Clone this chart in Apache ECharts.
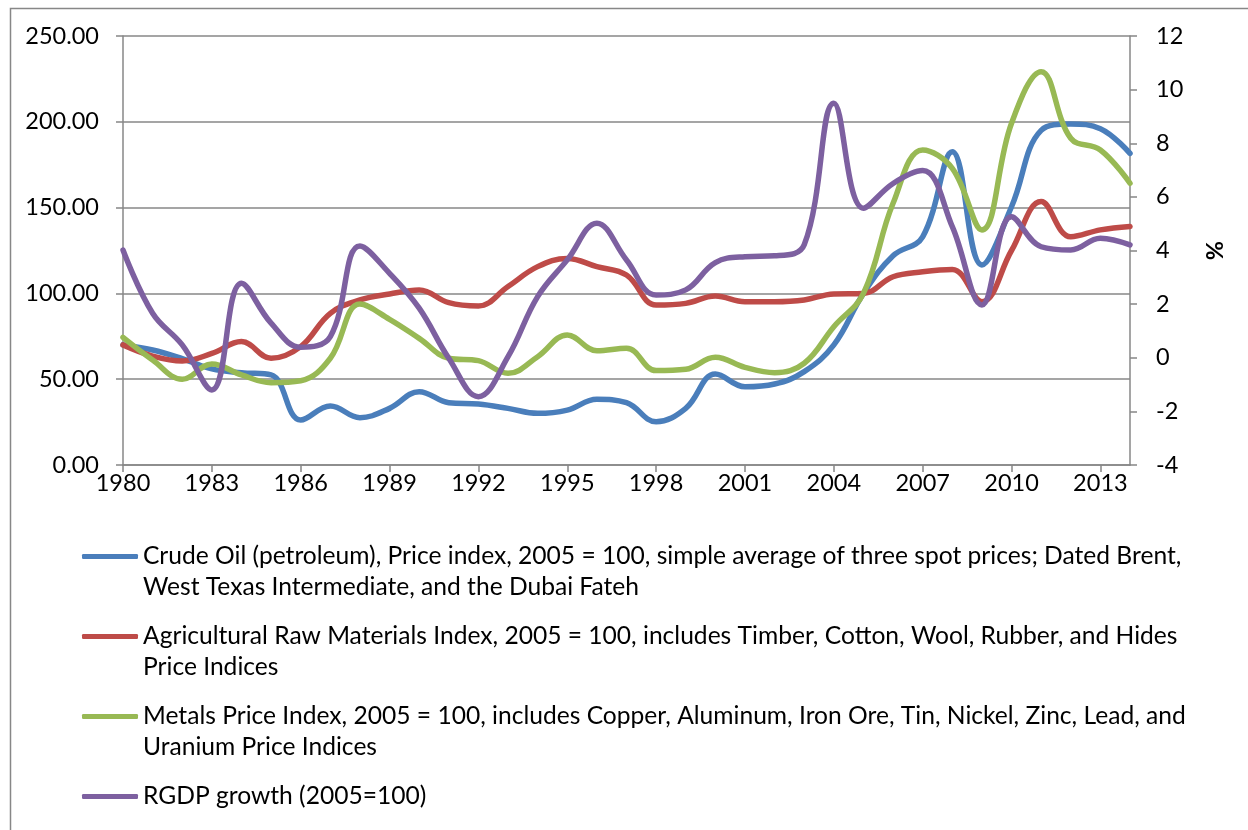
<!DOCTYPE html>
<html>
<head>
<meta charset="utf-8">
<script src="https://cdn.jsdelivr.net/npm/echarts@6/dist/echarts.min.js"></script>
<style>
html,body{margin:0;padding:0;background:#fff;}
#chart{width:1248px;height:830px;}
</style>
</head>
<body>
<div id="chart"></div>
<script>
var years = ['1980','1981','1982','1983','1984','1985','1986','1987','1988','1989','1990','1991','1992','1993','1994','1995','1996','1997','1998','1999','2000','2001','2002','2003','2004','2005','2006','2007','2008','2009','2010','2011','2012','2013','2014'];
var crudeOil = [70,67,62,56,53.8,52.5,26.2,34.4,27.6,33,42.7,36.3,35.5,33,30.1,32,38.3,36.3,25.2,33,53,45.6,47.2,54.4,70,100,122,133,182.6,116.6,150.5,195,198.7,196,181.6];
var agriRaw = [70,63.5,60.6,65,71.9,62.2,69,88.4,96.2,99.7,102,94.6,92.7,104,115.6,120.4,115.6,110.7,93.2,94.2,98.5,95.2,95.2,96.2,99.7,100,109.7,112.6,114,95.2,125,153.5,133,137,139];
var metals = [74.4,61.2,50,58.9,52.5,48,49.1,62.2,93.8,84.9,73.8,62.2,60.8,53.4,63.1,75.8,66.6,68,55,55.8,62.8,56.9,53.8,59.3,80.6,100,152.5,183.6,172.9,137,199.2,229.2,190.4,183.6,164.2];
var rgdpGrowth = [4.02,1.66,0.48,-1.2,2.78,1.29,0.39,0.79,4.17,3.15,1.85,-0.02,-1.45,0.04,2.28,3.65,5.02,3.65,2.34,2.53,3.55,3.77,3.8,4.21,9.49,5.58,6.5,6.98,4.89,1.97,5.26,4.14,4.02,4.46,4.21];

var seriesNames = [
  'Crude Oil (petroleum), Price index, 2005 = 100, simple average of three spot prices; Dated Brent, West Texas Intermediate, and the Dubai Fateh',
  'Agricultural Raw Materials Index, 2005 = 100, includes Timber, Cotton, Wool, Rubber, and Hides Price Indices',
  'Metals Price Index, 2005 = 100, includes Copper, Aluminum, Iron Ore, Tin, Nickel, Zinc, Lead, and Uranium Price Indices',
  'RGDP growth (2005=100)'
];
// wrapped legend text: a blank line above each entry keeps the marker level with the first line
var legendLines = [
  '\nCrude Oil (petroleum), Price index, 2005 = 100, simple average of three spot prices; Dated Brent,\nWest Texas Intermediate, and the Dubai Fateh',
  '\nAgricultural Raw Materials Index, 2005 = 100, includes Timber, Cotton, Wool, Rubber, and Hides\nPrice Indices',
  '\nMetals Price Index, 2005 = 100, includes Copper, Aluminum, Iron Ore, Tin, Nickel, Zinc, Lead, and\nUranium Price Indices',
  '\nRGDP growth (2005=100)\n'
];
var leftTicks = {min: 0, max: 250, interval: 50};
var rightTicks = {min: -4, max: 12, interval: 2};

var colors = ['#4A7EBB', '#BE4B48', '#98B954', '#7D60A0'];
var FONT = 'Lato';
var gridColor = '#878787';

var chart = echarts.init(document.getElementById('chart'), null, {renderer: 'canvas'});

function mkSeries(i, data, yIdx) {
  return {
    name: seriesNames[i], type: 'line', data: data, yAxisIndex: yIdx,
    smooth: 0.4, showSymbol: false, symbol: 'none',
    lineStyle: {color: colors[i], width: 5.5, cap: 'round', join: 'round'},
    itemStyle: {color: colors[i]},
    emphasis: {disabled: true}
  };
}

chart.setOption({
  animation: false,
  color: colors,
  textStyle: {fontFamily: FONT},
  graphic: [{
    type: 'rect', left: 8, top: 6, silent: true,
    shape: {x: 0, y: 0, width: 1400, height: 1000},
    style: {fill: 'none', stroke: gridColor, lineWidth: 1.5}
  }],
  grid: {left: 123, right: 118, top: 36, bottom: 365, containLabel: false},
  legend: {
    orient: 'vertical', left: 77, top: 505, height: 400,
    itemWidth: 56, itemHeight: 5, itemGap: -13,
    icon: 'roundRect',
    data: seriesNames,
    formatter: function (name) { return legendLines[seriesNames.indexOf(name)]; },
    textStyle: {fontFamily: FONT, fontSize: 24.6, color: '#000', lineHeight: 31},
    selectedMode: false
  },
  xAxis: {
    type: 'category', data: years, boundaryGap: false,
    axisLine: {lineStyle: {color: gridColor, width: 1.5}},
    axisTick: {show: true, length: 7, interval: function (i) { return i % 3 === 0; }, lineStyle: {color: gridColor, width: 1.5}},
    axisLabel: {interval: function (i) { return i % 3 === 0; }, color: '#000', fontSize: 23.5, fontFamily: FONT, margin: 6},
    splitLine: {show: false}
  },
  yAxis: [{
    type: 'value', min: leftTicks.min, max: leftTicks.max, interval: leftTicks.interval,
    axisLine: {show: true, lineStyle: {color: gridColor, width: 1.5}},
    axisTick: {show: true, length: 7, lineStyle: {color: gridColor, width: 1.5}},
    axisLabel: {formatter: function (v) { return v.toFixed(2); }, color: '#000', fontSize: 23.5, fontFamily: FONT, margin: 24},
    splitLine: {show: true, lineStyle: {color: gridColor, width: 1.5}}
  }, {
    type: 'value', position: 'right', min: rightTicks.min, max: rightTicks.max, interval: rightTicks.interval,
    name: '%', nameLocation: 'middle', nameRotate: 90, nameGap: 73,
    nameTextStyle: {color: '#000', fontSize: 23.5, fontFamily: FONT, fontWeight: 'bold'},
    axisLine: {show: true, lineStyle: {color: gridColor, width: 1.5}},
    axisTick: {show: true, length: 7, lineStyle: {color: gridColor, width: 1.5}},
    axisLabel: {color: '#000', fontSize: 23.5, fontFamily: FONT, margin: 26},
    splitLine: {show: false}
  }],
  series: [
    mkSeries(0, crudeOil, 0),
    mkSeries(1, agriRaw, 0),
    mkSeries(2, metals, 0),
    mkSeries(3, rgdpGrowth, 1)
  ]
});
</script>
</body>
</html>
